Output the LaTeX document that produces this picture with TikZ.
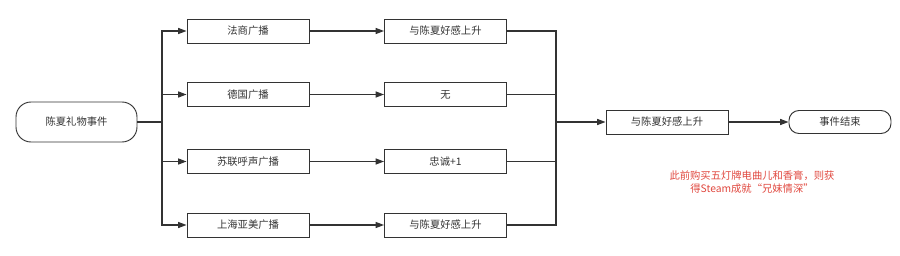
\documentclass[tikz,border=0pt]{standalone}
\usepackage{fontspec}
\setmainfont{Noto Sans CJK SC}
\usepackage{tikz}
\usetikzlibrary{arrows.meta,positioning}
\definecolor{ink}{HTML}{333333}
\definecolor{note}{HTML}{E0483F}
\tikzset{
  evt/.style={draw=ink, line width=0.8pt, rounded corners=0.45cm, align=center, minimum height=1.2cm, minimum width=3.63cm, inner sep=0pt, font=\fontsize{8.8}{10}\selectfont, text=ink},
  fin/.style={draw=ink, line width=0.8pt, rounded corners=0.3cm, align=center, minimum height=0.69cm, minimum width=3.06cm, inner sep=0pt, font=\fontsize{8.8}{10}\selectfont, text=ink},
  box/.style={draw=ink, line width=0.8pt, rectangle, align=center, minimum height=0.72cm, minimum width=3.66cm, inner sep=0pt, font=\fontsize{8.8}{10}\selectfont, text=ink},
  arr/.style={-{Triangle[length=2.5mm,width=1.8mm]}, draw=ink, line width=0.9pt},
  ln/.style={draw=ink, line width=0.9pt},
  memo/.style={align=center, text=note, font=\fontsize{8.8}{11}\selectfont}
}
\begin{document}
\begin{tikzpicture}[x=0.03cm, y=-0.03cm]
  \useasboundingbox (0,0) rectangle (900,256);
  \node[evt] (s) at (76.5,122) {陈夏礼物事件};
  \coordinate (sp) at (162,122);
  % radio choices
  \node[box] (r1) at (248,31) {法商广播};
  \node[box] (r2) at (248,94.5) {德国广播};
  \node[box] (r3) at (248,161.5) {苏联呼声广播};
  \node[box] (r4) at (248,225) {上海亚美广播};
  % outcomes
  \node[box] (o1) at (445.5,31) {与陈夏好感上升};
  \node[box] (o2) at (445.5,94.5) {无};
  \node[box] (o3) at (445.5,161.5) {忠诚+1};
  \node[box] (o4) at (445.5,225) {与陈夏好感上升};
  \coordinate (jn) at (556,122);
  \node[box] (f) at (667,122) {与陈夏好感上升};
  \node[fin] (e) at (840,122) {事件结束};
  \node[memo] (n) at (752,182.5) {此前购买五灯牌电曲儿和香膏，则获\\得Steam成就“兄妹情深”};
  \draw[ln] (s) -- (sp);
  \foreach \i in {1,...,4} {
    \draw[arr] (sp) |- (r\i);
    \draw[arr] (r\i) -- (o\i);
    \draw[ln] (o\i) -| (jn);
  }
  \draw[arr] (jn) -- (f);
  \draw[arr] (f) -- (e);
\end{tikzpicture}
\end{document}
